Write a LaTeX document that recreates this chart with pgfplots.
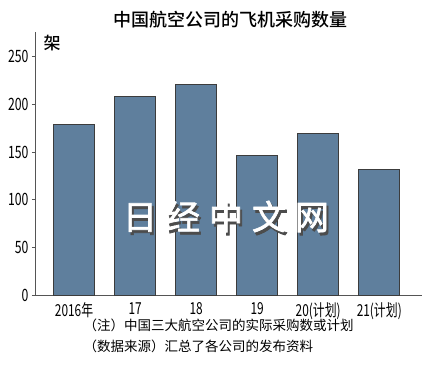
\documentclass[border=0pt]{standalone}
\usepackage{pgfplots}
\pgfplotsset{compat=1.18}
\usepackage{fontspec}
\setmainfont{Noto Sans CJK SC}
\newfontfamily\cond[FakeStretch=0.72]{Noto Sans CJK SC}
\newfontfamily\ttl{Noto Sans CJK SC Medium}
\newfontfamily\wm[FakeBold=2]{Noto Sans CJK SC}
\definecolor{barc}{HTML}{5F7F9D}
\definecolor{edgec}{HTML}{3C3C3C}
\definecolor{axc}{HTML}{555555}
\newcommand{\wmtext}{日\hspace{9pt}经\hspace{9pt}中\hspace{9pt}文\hspace{9pt}网}
\begin{document}
\begin{tikzpicture}
\path[use as bounding box] (-35pt,-75pt) rectangle (395pt,295pt);
\begin{axis}[
  scale only axis, width=387pt, height=263pt,
  at={(0pt,0pt)}, anchor=south west,
  xmin=-0.64, xmax=5.7, ymin=0, ymax=276,
  axis x line*=bottom, axis y line*=left,
  axis line style={axc, line width=0.8pt},
  xtick=data,
  xticklabels={2016年,17,18,19,20(计划),21(计划)},
  x tick label style={font=\cond\fontsize{16.5}{16.5}\selectfont, yshift=-1pt},
  xtick style={draw=none},
  ytick={0,50,...,250},
  y tick label style={font=\cond\fontsize{17}{17}\selectfont},
  /pgf/number format/assume math mode=true,
  ytick style={axc, line width=0.8pt},
  tick align=outside, major tick length=3pt,
  clip=false,
]
\addplot[ybar, bar width=41pt, fill=barc, draw=edgec, line width=1pt] coordinates {
  (0,179) (1,208) (2,221) (3,146) (4,169) (5,132)
};
\end{axis}
\node[font=\ttl\fontsize{18}{18}\selectfont] at (195pt,275pt) {中国航空公司的飞机采购数量};
\node[font=\ttl\fontsize{17}{17}\selectfont, anchor=west] at (5pt,252pt) {架};
\node[font=\fontsize{13.5}{13.5}\selectfont, anchor=west] at (45pt,-30pt) {（注）中国三大航空公司的实际采购数或计划};
\node[font=\fontsize{13.5}{13.5}\selectfont, anchor=west] at (45pt,-51pt) {（数据来源）汇总了各公司的发布资料};
\node[font=\wm\fontsize{34}{34}\selectfont] at (191pt,77pt) {\rlap{\hspace{2pt}\raisebox{-3pt}{\color{gray!60!black}\wmtext}}\color{white}\wmtext};
\end{tikzpicture}
\end{document}
